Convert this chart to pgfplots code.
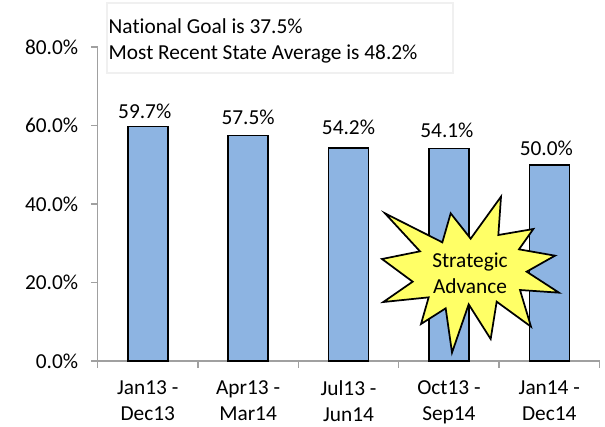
\documentclass[border=0pt]{standalone}
\usepackage{pgfplots}
\usepackage{pgfplotstable}
\pgfplotsset{compat=1.18}
\usepackage{fontspec}
\setmainfont[RawFeature={-liga;-clig;-calt}]{Carlito}
\definecolor{barblue}{HTML}{8DB4E2}
\definecolor{axgray}{HTML}{A0A0A0}
\definecolor{stary}{HTML}{FFFF66}
\pgfplotstableread{
x y dx dy
0 59.7 -2.2 2.2
1 57.5 0 3.7
2 54.2 0 6
3 54.1 -1.5 4.5
4 50.0 -2.2 3
}\ratedata
\begin{document}
\begin{tikzpicture}[x=0.75pt,y=0.75pt]
\useasboundingbox (0,0) rectangle (605,426);
\begin{axis}[
  at={(73.125pt,48.75pt)}, anchor=south west,
  scale only axis, width=376.5pt, height=235.5pt,
  xmin=-0.5, xmax=4.5, ymin=0, ymax=80,
  axis lines=left, axis line style={draw=axgray, line width=1.1pt, -},
  xtick={0,1,2,3,4},
  xticklabels={{Jan13 -\\Dec13},{Apr13 -\\Mar14},{Jul13 -\\Jun14},{Oct13 -\\Sep14},{Jan14 -\\Dec14}},
  minor xtick={-0.5,0.5,1.5,2.5,3.5,4.5},
  ytick={0,20,40,60,80},
  tick align=outside, tick pos=left,
  major x tick style={draw=none},
  minor tick length=5pt, major tick length=5pt,
  minor x tick style={draw=axgray, line width=1pt},
  major y tick style={draw=axgray, line width=1pt},
  xticklabel style={align=center, font=\fontsize{16}{19.5}\selectfont, text=black, yshift=-6.5pt},
  yticklabel style={font=\fontsize{16}{18}\selectfont, text=black, xshift=-6pt},
  yticklabel={\pgfmathprintnumber[/pgf/number format/assume math mode=true,fixed,fixed zerofill,precision=1]{\tick}\%},
  ybar, bar width=30pt,
  visualization depends on={\thisrow{dx}\as\dxv},
  visualization depends on={\thisrow{dy}\as\dyv},
  nodes near coords={\pgfmathprintnumber[/pgf/number format/assume math mode=true,fixed,fixed zerofill,precision=1]{\pgfplotspointmeta}\%},
  every node near coord/.append style={font=\fontsize{16}{18}\selectfont, text=black, xshift=\dxv pt, yshift=\dyv pt},
  clip=false,
]
\addplot[fill=barblue, draw=black, line width=1.2pt] table[x=x,y=y] {\ratedata};
\end{axis}
\draw[draw=black!6, line width=1.1pt, fill=white] (107,353) rectangle (453,423);
\node[anchor=west, align=left, font=\fontsize{16}{19.5}\selectfont] at (104,385.5) {National Goal is 37.5\%\\Most Recent State Average is 48.2\%};
\begin{scope}[shift={(360,246)},x=0.25pt,y=-0.25pt]
\draw[fill=stary, draw=black, line width=1.3pt, line join=miter]
 (75,100)--(247,187)--(272,100)--(332,176)--(423,50)--(415,165)--(520,147)--(477,208)--(585,227)--(500,275)--(597,338)--(480,330)--(513,440)--(410,365)--(392,477)--(326,373)--(276,518)--(257,385)--(183,432)--(206,352)--(70,366)--(158,305)--(66,237)--(180,214)--cycle;
\node[align=center, font=\fontsize{16}{19.5}\selectfont] at (330,280) {Strategic\\Advance};
\end{scope}
\end{tikzpicture}
\end{document}
